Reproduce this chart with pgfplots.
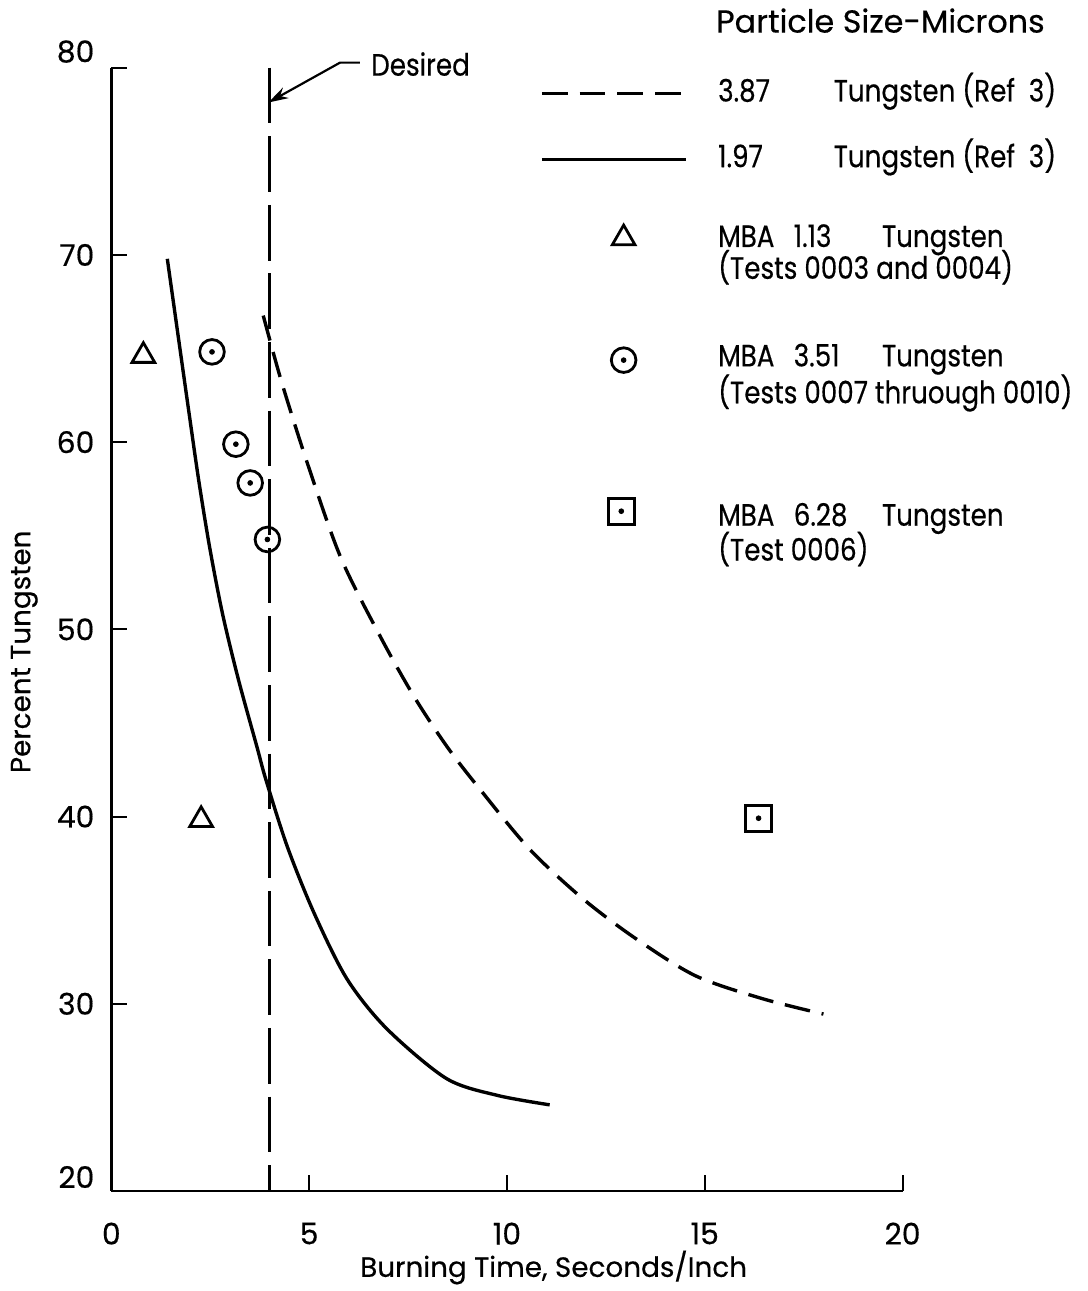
\documentclass[border=0pt]{standalone}
\usepackage{fontspec}
\setmainfont{Poppins}[FakeBold=0.4]
\newfontfamily\legfont{Poppins}[FakeStretch=0.85, FakeBold=0.4]
\usepackage{pgfplots}
\pgfplotsset{compat=1.18}
\usetikzlibrary{arrows.meta}

\newcommand\lf{\legfont\fontsize{15.5}{18}\selectfont}

\begin{document}
\begin{tikzpicture}
\begin{axis}[
    scale only axis,
    width=398pt, height=565pt,
    xmin=0, xmax=20,
    ymin=20, ymax=80,
    axis x line=bottom,
    axis y line=left,
    axis line style={-, line width=1.3pt},
    xtick={0,5,10,15,20},
    ytick={20,30,40,50,60,70,80},
    yticklabels={\raisebox{1.5pt}[0pt][0pt]{20},30,40,50,60,70,\raisebox{2.75pt}[0pt][0pt]{80}},
    tick align=inside,
    major tick length=8pt,
    every tick/.style={black, line width=1pt},
    /pgf/number format/assume math mode=true,
    tick label style={font=\fontsize{15}{17}\selectfont},
    xticklabel style={yshift=-12.4pt},
    yticklabel style={xshift=-5pt},
    xlabel={Burning Time, Seconds/Inch},
    ylabel={Percent Tungsten},
    label style={font=\fontsize{14}{16}\selectfont},
    xlabel style={at={(axis description cs:0.559,0)}, anchor=center, yshift=-38.5pt},
    ylabel style={at={(axis description cs:-0.11,0.48)}, anchor=center},
    clip=false,
]
% page size, same proportions as the original sheet
\path (axis cs:-2.814,83.617) rectangle (axis cs:24.673,14.947);

% desired burning time
\addplot[line width=1.7pt, dash pattern=on 28pt off 6.5pt] coordinates {(4,80) (4,20)};

% 1.97 micron tungsten (Ref 3)
\addplot[line width=1.7pt, smooth] coordinates {
  (1.415,69.79) (1.734,65.00) (1.972,61.44) (2.211,57.93) (2.487,54.36)
  (2.814,50.80) (3.216,47.29) (3.681,43.72) (3.907,41.97) (4.447,38.40)
  (5.126,34.84) (5.955,31.33) (6.960,28.67) (8.467,26.01) (9.749,25.11)
  (11.080,24.60)
};

% 3.87 micron tungsten (Ref 3)
\addplot[line width=1.7pt, smooth, dash pattern=on 13pt off 6pt] coordinates {
  (3.84,66.76) (4.30,63.24) (4.97,58.78) (5.80,53.83) (6.81,49.57)
  (7.66,46.38) (8.49,43.72) (9.32,41.45) (10.58,38.24) (11.93,35.59)
  (13.27,33.46) (14.77,31.49) (16.46,30.27) (18.00,29.45)
};

% MBA 1.13
\addplot[only marks, mark=triangle, mark size=6.6pt, mark options={line width=1.4pt}]
  coordinates {(0.81,64.61) (2.27,39.82)};
% MBA 3.51
\addplot[only marks, mark=o, mark size=6.2pt, mark options={line width=1.4pt}]
  coordinates {(2.545,64.82) (3.148,59.89) (3.51,57.82) (3.945,54.80)};
\addplot[only marks, mark=*, mark size=1.2pt]
  coordinates {(2.545,64.82) (3.148,59.89) (3.51,57.82) (3.945,54.80)};
% MBA 6.28
\addplot[only marks, mark=square, mark size=6.5pt, mark options={line width=1.4pt}]
  coordinates {(16.36,39.91)};
\addplot[only marks, mark=*, mark size=1.2pt] coordinates {(16.36,39.91)};

% key
\addplot[line width=1.7pt, dash pattern=on 13pt off 6pt] coordinates {(10.88,78.62) (14.52,78.62)};
\addplot[line width=1.7pt] coordinates {(10.88,75.11) (14.52,75.11)};
\addplot[only marks, mark=triangle, mark size=6.6pt, mark options={line width=1.4pt}]
  coordinates {(12.95,70.89)};
\addplot[only marks, mark=o, mark size=6.2pt, mark options={line width=1.4pt}]
  coordinates {(12.95,64.38)};
\addplot[only marks, mark=*, mark size=1.2pt] coordinates {(12.95,64.38)};
\addplot[only marks, mark=square, mark size=6.5pt, mark options={line width=1.4pt}]
  coordinates {(12.89,56.31)};
\addplot[only marks, mark=*, mark size=1.2pt] coordinates {(12.89,56.31)};

\begin{scope}[every node/.style={anchor=west, inner sep=0pt, font=\lf, text height=11pt, text depth=3pt}]
\node[font=\fontsize{16}{18}\selectfont] at (axis cs:15.28,82.30) {Particle Size-Microns};
\node at (axis cs:15.33,78.62) {3.87};
\node at (axis cs:18.25,78.62) {Tungsten};
\node at (axis cs:21.50,78.62) {(Ref\hspace{0.45em}3)};
\node at (axis cs:15.33,75.11) {1.97};
\node at (axis cs:18.25,75.11) {Tungsten};
\node at (axis cs:21.50,75.11) {(Ref\hspace{0.45em}3)};
\node at (axis cs:15.33,70.85) {MBA};
\node at (axis cs:17.24,70.85) {1.13};
\node at (axis cs:19.47,70.85) {Tungsten};
\node at (axis cs:15.33,69.15) {(Tests 0003 and 0004)};
\node at (axis cs:15.33,64.47) {MBA};
\node at (axis cs:17.24,64.47) {3.51};
\node at (axis cs:19.47,64.47) {Tungsten};
\node at (axis cs:15.33,62.50) {(Tests 0007 thruough 0010)};
\node at (axis cs:15.33,55.96) {MBA};
\node at (axis cs:17.24,55.96) {6.28};
\node at (axis cs:19.47,55.96) {Tungsten};
\node at (axis cs:15.33,54.10) {(Test 0006)};
\node at (axis cs:6.56,80.0) {Desired};
\end{scope}
\draw[line width=1.1pt, -{Stealth[length=10pt,width=6pt]}]
  (axis cs:6.28,80.27) -- (axis cs:5.78,80.27) -- (axis cs:3.97,78.14);
\end{axis}
\end{tikzpicture}
\end{document}
